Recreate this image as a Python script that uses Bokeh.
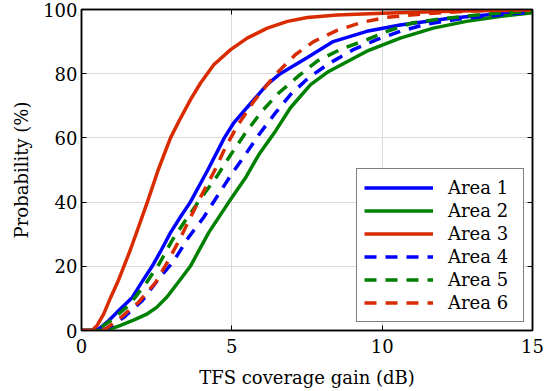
from bokeh.plotting import figure
from bokeh.models import Legend, LegendItem, LinearAxis, FixedTicker, Range1d
from bokeh.embed import file_html
from bokeh.resources import INLINE

# TFS coverage gain (dB) vs cumulative probability (%)
a1_x = [0, 0.45, 0.6, 0.91, 1.3, 1.69, 2.0, 2.35, 2.65, 2.96, 3.3, 3.62, 4.2, 4.75, 5.05, 5.5, 6.17, 6.61, 7.5, 8.37, 9.49, 10.6, 12.26, 13.9, 15]
a1_y = [0, 0, 0.7, 3.1, 6.8, 10.3, 15, 20, 25, 30.5, 35.5, 40, 50, 60, 64.5, 69.4, 76.6, 80, 85, 90, 93.2, 95.2, 97.3, 98.7, 99.5]

a2_x = [0, 0.65, 1.0, 1.3, 1.75, 2.19, 2.5, 2.85, 3.2, 3.62, 4.23, 4.9, 5.45, 5.9, 6.45, 6.95, 7.62, 8.22, 9.49, 10.6, 11.7, 12.8, 13.9, 15]
a2_y = [0, 0, 0.6, 1.6, 3.3, 5.2, 7.2, 10.5, 14.8, 20, 30.5, 40, 47.5, 54.8, 62.1, 69.4, 76.6, 80.7, 87, 91.1, 94.2, 96.3, 97.8, 99.0]

a3_x = [0, 0.35, 0.52, 0.74, 0.97, 1.2, 1.41, 1.62, 1.85, 2.19, 2.55, 2.96, 3.24, 3.63, 3.96, 4.4, 4.96, 5.51, 6.18, 6.85, 7.51, 8.5, 10.0, 11.7, 13.0, 15]
a3_y = [0, 0, 1.6, 5.2, 10.3, 15, 20, 25, 31, 40, 50, 60, 65.2, 72, 77.1, 82.8, 87.5, 91.1, 94.2, 96.3, 97.5, 98.3, 98.8, 99.3, 99.6, 99.8]

a4_x = [0, 0.7, 1.0, 1.41, 2.02, 2.52, 3.07, 3.56, 4.06, 4.52, 4.95, 5.45, 5.9, 6.45, 6.95, 7.55, 8.2, 9.04, 9.82, 10.6, 11.5, 12.6, 13.9, 15]
a4_y = [0, 0, 1.5, 4.1, 9.3, 15.5, 21.7, 29, 35.2, 41.9, 48.1, 54.8, 61, 67.8, 73.5, 78.7, 83, 87.5, 90.6, 93.2, 95.5, 97.1, 98.3, 99.2]

a5_x = [0, 0.5, 0.97, 1.57, 2.13, 2.58, 3.01, 3.45, 3.95, 4.51, 4.93, 5.45, 6.0, 6.56, 7.22, 7.85, 8.6, 9.49, 10.16, 11.0, 11.95, 13.5, 15]
a5_y = [0, 0, 3.1, 7.8, 14.5, 20.7, 28, 34.2, 40.9, 48.1, 54.3, 61.5, 68.3, 74, 79.3, 84, 87.5, 90.6, 93.2, 95.8, 97.1, 98.6, 99.4]

a6_x = [0, 0.5, 0.8, 1.19, 1.9, 2.47, 2.9, 3.3, 3.62, 4.04, 4.42, 4.78, 5.2, 5.73, 6.45, 7.11, 7.72, 8.5, 9.33, 10.16, 11.5, 12.8, 15]
a6_y = [0, 0, 0.5, 3.1, 8.8, 15, 22, 29, 35.2, 43, 49.7, 56.9, 64, 71.4, 79.7, 85.9, 90, 93.5, 96, 97.6, 98.7, 99.5, 99.9]

labels = ["Area 1", "Area 2", "Area 3", "Area 4", "Area 5", "Area 6"]
x_ticks = [0, 5, 10, 15]
y_ticks = [0, 20, 40, 60, 80, 100]

BLUE = "#0000FF"
GREEN = "#008000"
RED = "#D92B00"
FONT = "DejaVu Serif"
FS = "18px"

p = figure(width=556, height=391, x_range=Range1d(0, 15), y_range=Range1d(0, 100),
           output_backend="svg", toolbar_location=None,
           min_border_left=81, min_border_right=24, min_border_top=9, min_border_bottom=61)

p.outline_line_color = "black"
p.outline_line_width = 1.5
p.background_fill_color = "white"
p.border_fill_color = "white"

for ax in (p.xaxis[0], p.yaxis[0]):
    ax.major_tick_in = 5
    ax.major_tick_out = 0
    ax.minor_tick_in = 0
    ax.minor_tick_out = 0
    ax.axis_line_color = "black"
    ax.axis_line_width = 1.5
    ax.major_tick_line_width = 1
    ax.major_label_text_font = FONT
    ax.major_label_text_font_size = FS
    ax.major_label_text_color = "black"
    ax.axis_label_text_font = FONT
    ax.axis_label_text_font_size = FS
    ax.axis_label_text_font_style = "normal"
    ax.axis_label_text_color = "black"

p.xaxis.ticker = FixedTicker(ticks=x_ticks)
p.yaxis.ticker = FixedTicker(ticks=y_ticks)
p.xaxis.axis_label = "TFS coverage gain (dB)"
p.yaxis.axis_label = "Probability (%)"
p.xaxis.major_label_standoff = 8
p.xaxis.axis_label_standoff = 11
p.yaxis.major_label_standoff = 4
p.yaxis.axis_label_standoff = 8

# mirrored tick axes on top and right (ticks only, no labels)
top_ax = LinearAxis(ticker=FixedTicker(ticks=x_ticks),
                    major_label_overrides={t: "" for t in x_ticks},
                    major_tick_in=5, major_tick_out=0, minor_tick_in=0, minor_tick_out=0,
                    axis_line_color="black", axis_line_width=1.5, major_label_standoff=0)
right_ax = LinearAxis(ticker=FixedTicker(ticks=y_ticks),
                      major_label_overrides={t: "" for t in y_ticks},
                      major_tick_in=5, major_tick_out=0, minor_tick_in=0, minor_tick_out=0,
                      axis_line_color="black", axis_line_width=1.5, major_label_standoff=0)
p.add_layout(top_ax, "above")
p.add_layout(right_ax, "right")

p.xgrid.grid_line_color = "#DADADA"
p.ygrid.grid_line_color = "#DADADA"
p.xgrid.grid_line_width = 1
p.ygrid.grid_line_width = 1

LW = 3.5
DASH = "12 9"
r1 = p.line(a1_x, a1_y, line_color=BLUE, line_width=LW)
r2 = p.line(a2_x, a2_y, line_color=GREEN, line_width=LW)
r3 = p.line(a3_x, a3_y, line_color=RED, line_width=LW)
r4 = p.line(a4_x, a4_y, line_color=BLUE, line_width=LW, line_dash=DASH)
r5 = p.line(a5_x, a5_y, line_color=GREEN, line_width=LW, line_dash=DASH)
r6 = p.line(a6_x, a6_y, line_color=RED, line_width=LW, line_dash=DASH)

items = [LegendItem(label=lab, renderers=[r]) for lab, r in zip(labels, [r1, r2, r3, r4, r5, r6])]
legend = Legend(items=items, location="bottom_right", margin=8, padding=7, spacing=0,
                glyph_width=69, glyph_height=23, label_height=23, label_width=68,
                label_standoff=15, label_text_font=FONT, label_text_font_size=FS,
                label_text_color="black", border_line_color="black", border_line_width=1.5,
                background_fill_color="white", background_fill_alpha=1.0)
p.add_layout(legend, "center")

open("out.html", "w").write(file_html(p, INLINE))
